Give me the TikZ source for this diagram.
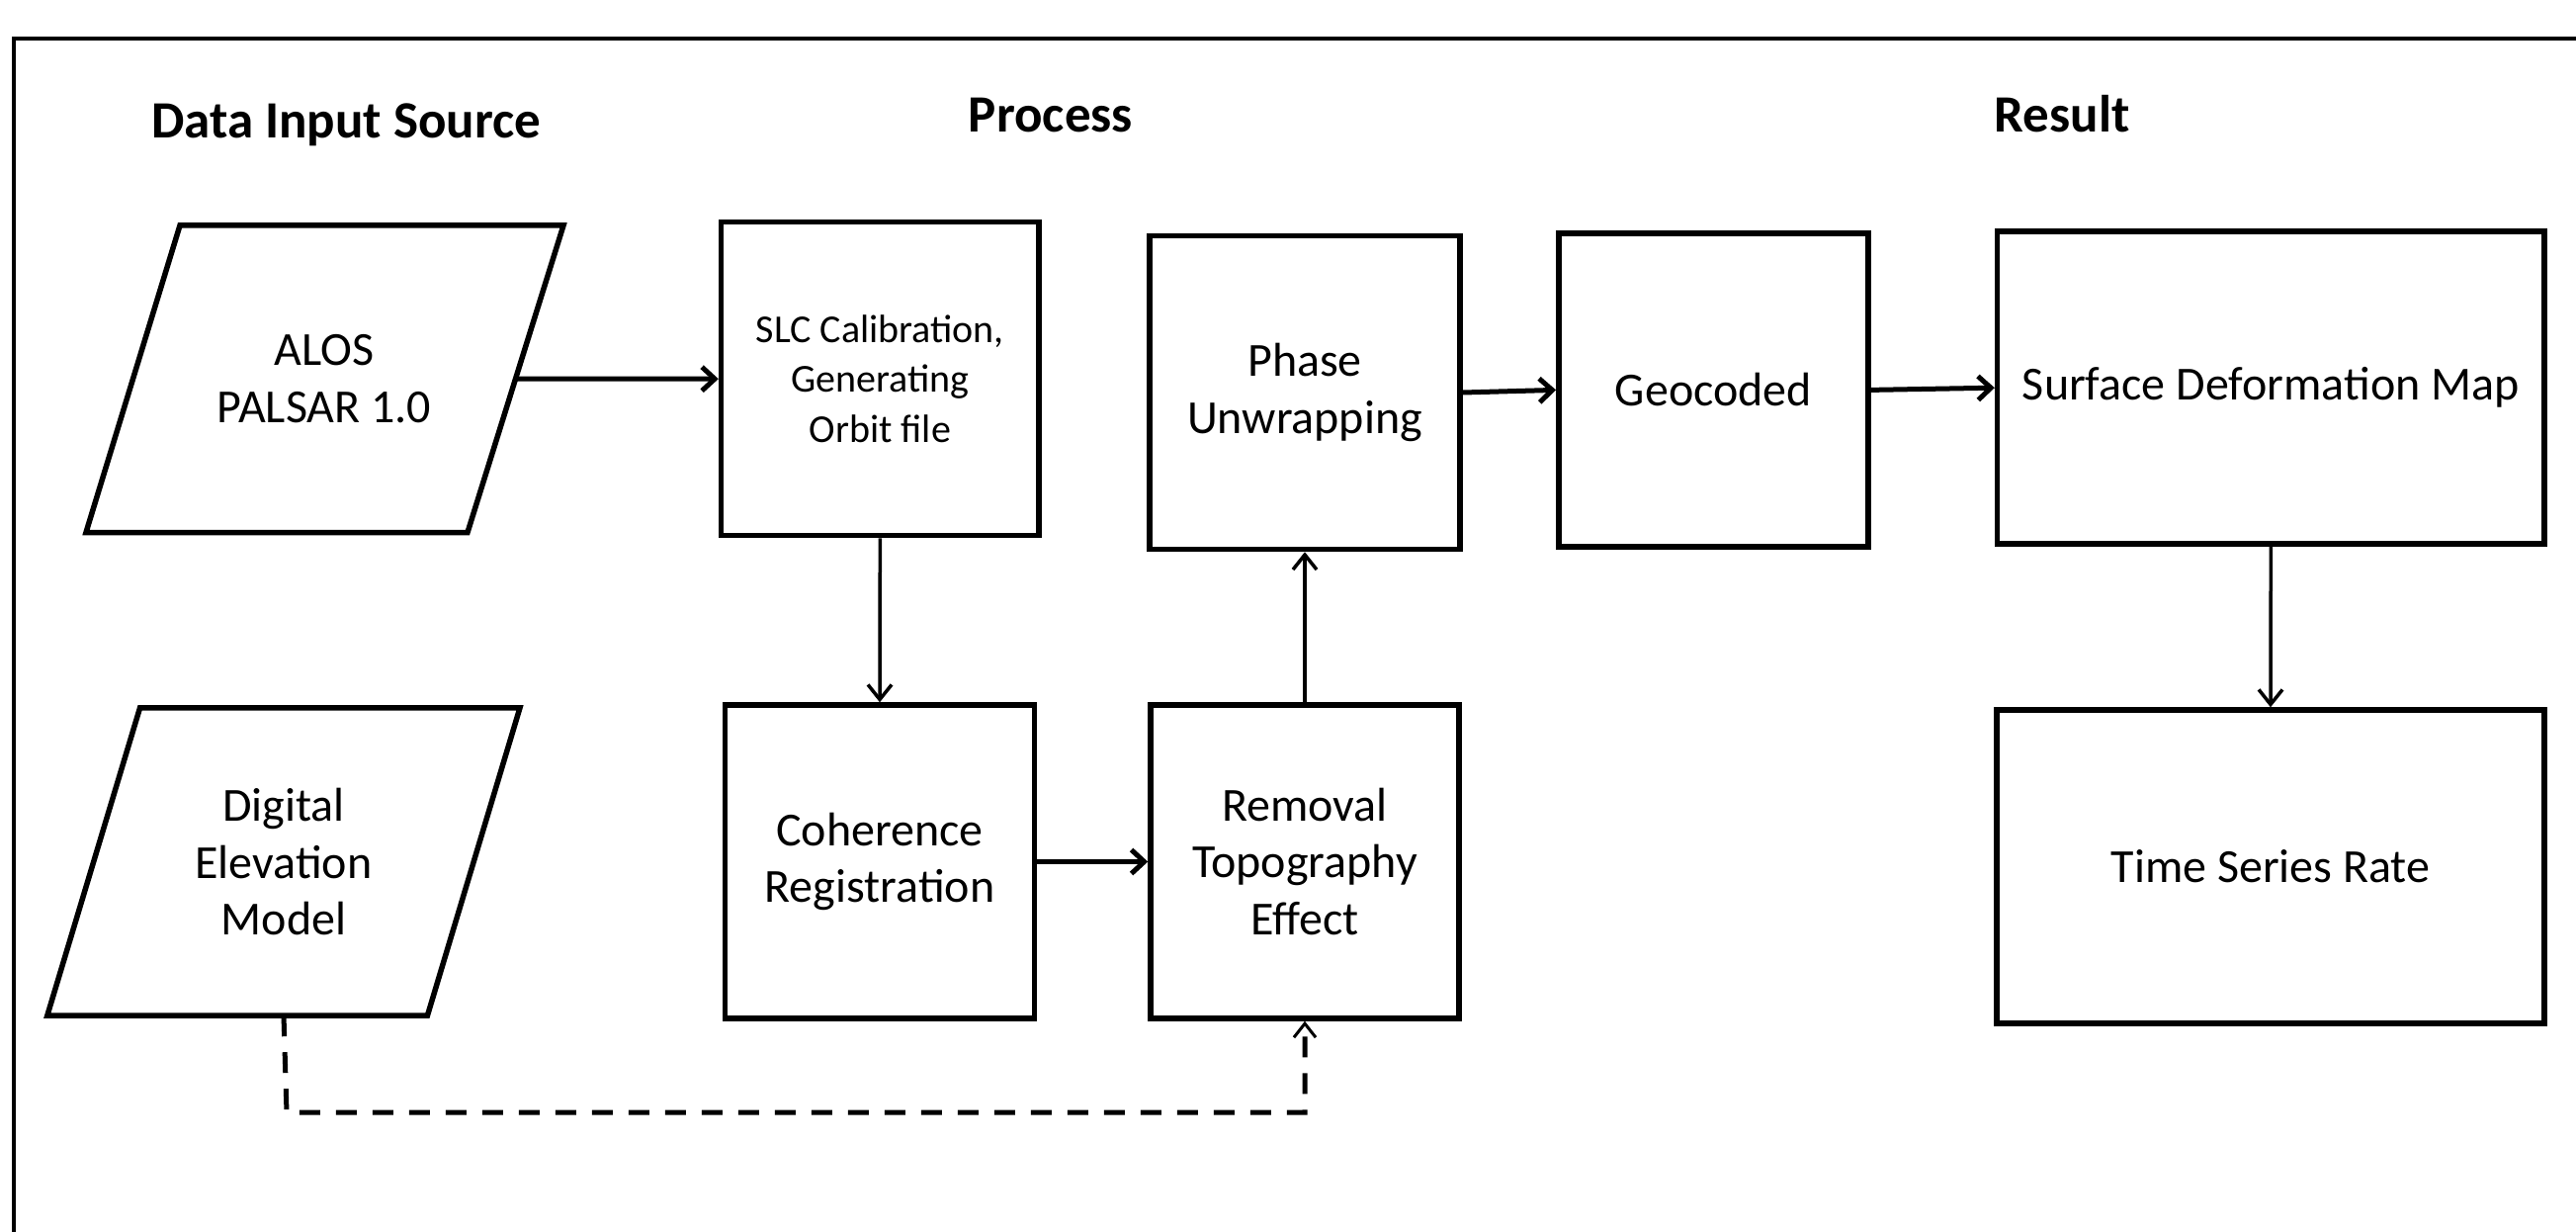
\documentclass[tikz,border=0pt]{standalone}
\usepackage{fontspec}
\setmainfont{Carlito}
\usetikzlibrary{arrows.meta}
\begin{document}
\begin{tikzpicture}[x=1pt,y=-1pt,
  box/.style={draw, line width=5.5pt, align=center, inner sep=0pt, font=\fontsize{48}{57.5}\selectfont},
  para/.style={draw, line width=5.5pt, line join=miter},
  ptext/.style={align=center, inner sep=0pt, font=\fontsize{48}{57.5}\selectfont},
  head/.style={anchor=base, inner sep=0pt, font=\bfseries\fontsize{53}{60}\selectfont},
  thick arrow/.style={line width=5pt, -{Straight Barb[length=13pt,width=24pt]}},
  thin arrow/.style={line width=3.5pt, -{Straight Barb[length=15pt,width=24pt]}},
  dash arrow/.style={line width=5pt, dash pattern=on 21pt off 16pt, -{Straight Barb[length=14pt,width=22pt,line width=3pt]}}
]
\useasboundingbox (0,0) rectangle (2606,1246);
% frame
\draw[line width=4pt] (14,1246) -- (14,39.5) -- (2606,39.5);

% headings
\node[head] (h1) at (350,140) {Data Input Source};
\node[head] (h2) at (1063,133.5) {Process};
\node[head] (h3) at (2086,133.5) {Result};

% parallelograms
\draw[para] (182,228) -- (570,228) -- (473,538.5) -- (87,538.5) -- cycle;
\node[ptext] (alos) at (328,383) {ALOS\\PALSAR 1.0};
\coordinate (alosR) at (521.6,383);

\draw[para] (141.6,715.8) -- (526,715.8) -- (432.4,1027.2) -- (47.8,1027.2) -- cycle;
\node[ptext] (dem) at (287,871.5) {Digital\\Elevation\\Model};
\coordinate (demB) at (287,1027.2);

% boxes
\node[box, minimum width=321.5pt, minimum height=317pt, font=\fontsize{40}{50.5}\selectfont] (slc) at (890.3,383.2) {SLC Calibration,\\Generating\\Orbit file};
\node[box, minimum width=314pt, minimum height=317pt] (phase) at (1320,397) {Phase\\Unwrapping};
\node[box, minimum width=313pt, minimum height=317pt] (geo) at (1733.3,394.4) {Geocoded};
\node[box, minimum width=553.5pt, minimum height=316pt] (surf) at (2297.3,392.2) {Surface Deformation Map};
\node[box, minimum width=313pt, minimum height=317pt] (coh) at (890,871.5) {Coherence\\Registration};
\node[box, minimum width=312pt, minimum height=317pt] (rem) at (1320,871.5) {Removal\\Topography\\Effect};
\node[box, minimum width=554pt, minimum height=317pt] (time) at (2297,876.5) {Time Series Rate};

% connectors
\draw[thick arrow] (alosR) -- (slc.west);
\draw[thin arrow] (slc.south) -- (coh.north);
\draw[thick arrow] (coh.east) -- (rem.west);
\draw[thin arrow] (rem.north) -- (phase.south);
\draw[thick arrow] (phase.east) -- (geo.west);
\draw[thick arrow] (geo.east) -- (surf.west);
\draw[thin arrow] (surf.south) -- (time.north);
\draw[dash arrow] (demB) -- ++(3,98) -| (rem.south);
\end{tikzpicture}
\end{document}
